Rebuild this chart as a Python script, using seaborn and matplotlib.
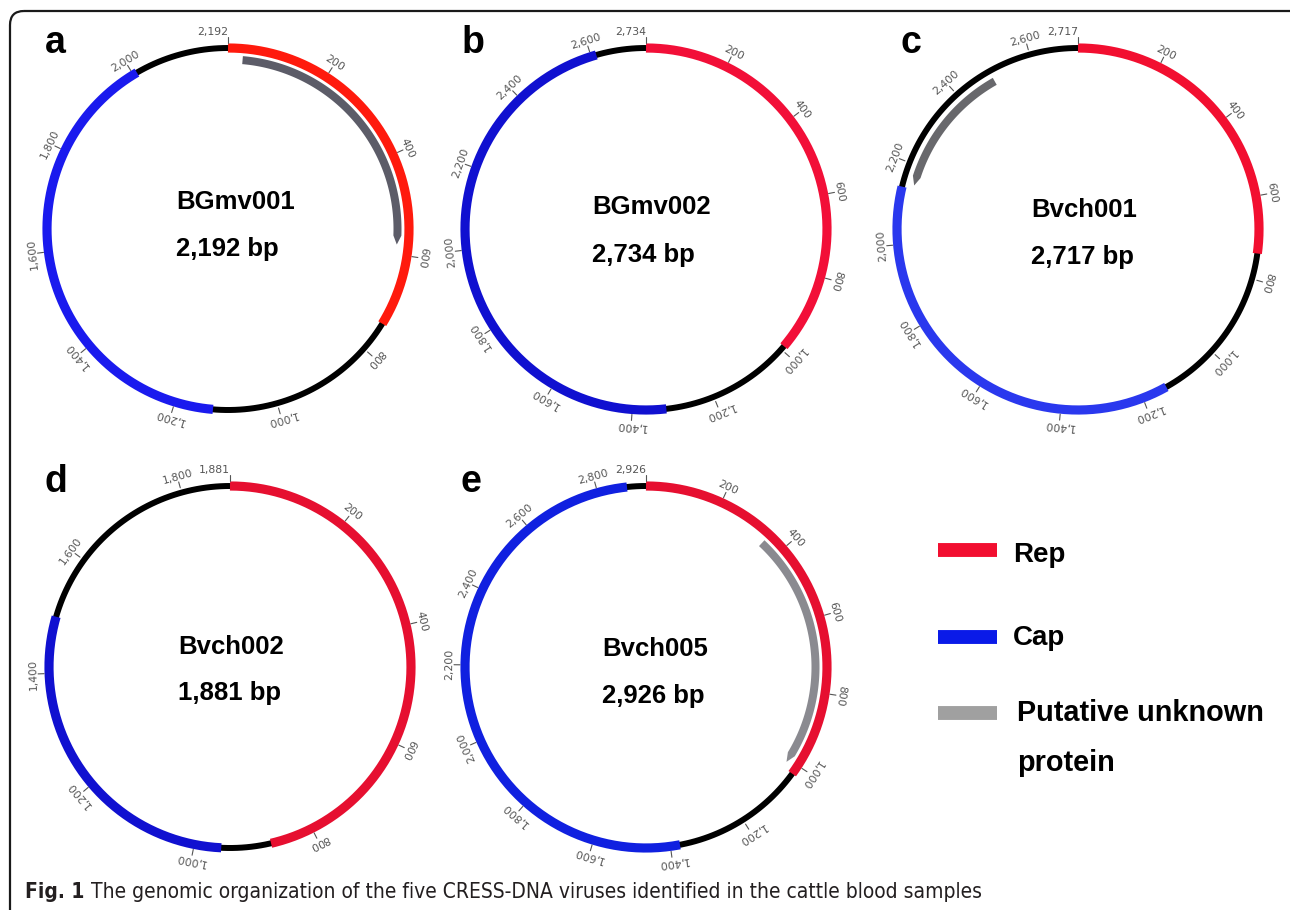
import numpy as np
import matplotlib
matplotlib.use("Agg")
import matplotlib.pyplot as plt
import seaborn as sns
from matplotlib import font_manager
from matplotlib.patches import FancyBboxPatch

# -----------------------------
# Data (positions in bp)
# -----------------------------
panel_letters = ["a", "b", "c", "d", "e"]
virus_names = ["BGmv001", "BGmv002", "Bvch001", "Bvch002", "Bvch005"]
genome_lengths = [2192, 2734, 2717, 1881, 2926]
rep_orfs = [(1, 740), (1, 990), (1, 738), (1, 872), (1, 1025)]
cap_orfs = [(1125, 2008), (1318, 2613), (1138, 2140), (955, 1495), (1375, 2877)]
# (start, end, strand) ; strand +1 -> arrow at end, -1 -> arrow at start
putative_orfs = [(30, 580, 1), None, (2150, 2495, -1), None, (350, 1008, 1)]
tick_step = 200

legend_labels = ["Rep", "Cap", "Putative unknown\nprotein"]
caption_bold = "Fig. 1"
caption_text = "The genomic organization of the five CRESS-DNA viruses identified in the cattle blood samples"

# -----------------------------
# Layout / style
# -----------------------------
centers = [(228, 229), (646, 229), (1078, 229), (230, 667), (646, 667)]
radius = 181
letter_pos = [(45, 53), (462, 53), (901, 53), (45, 492), (461, 492)]
name_xy = [(176, 202), (592, 207), (1031, 210), (178, 647), (602, 649)]
bp_y = [249, 255, 257, 693, 696]
rep_colors = ["#ff1a0d", "#f20f38", "#f20f30", "#e60f30", "#e60f30"]
cap_colors = ["#1a1aee", "#1010d0", "#2a38ee", "#1010d0", "#1020e0"]
put_colors = ["#5c5c68", None, "#68686c", None, "#8a8a90"]
legend_colors = ["#f20f30", "#0a1ae8", "#a0a0a0"]

sns.set_theme(style="white")
plt.rcParams["font.family"] = ["Liberation Sans", "DejaVu Sans"]

fig = plt.figure(figsize=(12.9, 9.1), dpi=100)
ax = fig.add_axes([0, 0, 1, 1])


def arc_xy(cx, cy, r, start, end, length, n=240):
    t = np.linspace(start, end, n) / length * 2 * np.pi
    return cx + r * np.sin(t), cy - r * np.cos(t)


def draw_arc(cx, cy, r, start, end, length, color, lw):
    x, y = arc_xy(cx, cy, r, start, end, length)
    sns.lineplot(x=x, y=y, sort=False, estimator=None, color=color,
                 linewidth=lw, ax=ax, solid_capstyle="butt", legend=False)


def draw_arrow_band(cx, cy, r, start, end, strand, length, color, width=8, tip=9):
    tip_bp = tip / (2 * np.pi * r) * length
    if strand > 0:
        a0, a1, tip_pos = start, end - tip_bp, end
    else:
        a0, a1, tip_pos = start + tip_bp, end, start
    xo, yo = arc_xy(cx, cy, r + width / 2, a0, a1, length)
    xi, yi = arc_xy(cx, cy, r - width / 2, a0, a1, length)
    tx, ty = arc_xy(cx, cy, r, tip_pos, tip_pos, length, n=1)
    if strand > 0:
        px = np.concatenate([xo, tx, xi[::-1]])
        py = np.concatenate([yo, ty, yi[::-1]])
    else:
        px = np.concatenate([tx, xo, xi[::-1]])
        py = np.concatenate([ty, yo, yi[::-1]])
    ax.fill(px, py, color=color, lw=0)


for i in range(5):
    cx, cy = centers[i]
    L = genome_lengths[i]

    # backbone
    draw_arc(cx, cy, radius, 0, L, L, "black", 4.3)
    # genes
    draw_arc(cx, cy, radius, rep_orfs[i][0] - 1, rep_orfs[i][1], L, rep_colors[i], 6.6)
    draw_arc(cx, cy, radius, cap_orfs[i][0], cap_orfs[i][1], L, cap_colors[i], 6.6)
    if putative_orfs[i] is not None:
        s, e, strand = putative_orfs[i]
        draw_arrow_band(cx, cy, radius - 11.5, s, e, strand, L, put_colors[i])

    # ticks + labels
    ticks = list(range(tick_step, L, tick_step)) + [L]
    for tk in ticks:
        th = tk / L * 2 * np.pi
        x1, y1 = cx + (radius + 5) * np.sin(th), cy - (radius + 5) * np.cos(th)
        x2, y2 = cx + (radius + 11) * np.sin(th), cy - (radius + 11) * np.cos(th)
        ax.plot([x1, x2], [y1, y2], color="#555555", lw=0.8)
        lx, ly = cx + (radius + 16) * np.sin(th), cy - (radius + 16) * np.cos(th)
        ha = "right" if tk == L else "center"
        ax.text(lx, ly, f"{tk:,}", rotation=-np.degrees(th), rotation_mode="anchor",
                ha=ha, va="center", fontsize=7.8, color="#555555",
                family=["DejaVu Sans"])

    # center labels
    nx, ny = name_xy[i]
    ax.text(nx, ny, virus_names[i], ha="left", va="center", fontsize=18.5,
            fontweight="bold", color="black")
    ax.text(nx, bp_y[i], f"{L:,} bp", ha="left", va="center", fontsize=18.5,
            fontweight="bold", color="black")

    # panel letter
    ax.text(letter_pos[i][0], letter_pos[i][1], panel_letters[i], ha="left",
            va="baseline", fontsize=27, fontweight="bold", color="black")

# -----------------------------
# Legend (drawn manually)
# -----------------------------
leg_bar_y = [550, 637, 713]
leg_text_pos = [(1013, 555), (1013, 638), (1017, 738)]
leg_sizes = [20, 20, 20.8]
for c, lab, by, (tx, ty), fs in zip(legend_colors, legend_labels, leg_bar_y,
                                     leg_text_pos, leg_sizes):
    sns.lineplot(x=[938, 997], y=[by, by], color=c, linewidth=10, ax=ax,
                 solid_capstyle="butt", legend=False)
    ax.text(tx, ty, lab, ha="left", va="center", fontsize=fs, fontweight="bold",
            color="black", linespacing=2.0)

# -----------------------------
# Frame + caption
# -----------------------------
frame = FancyBboxPatch((10, 11), 1300, 950, boxstyle="round,pad=0,rounding_size=14",
                       fill=False, lw=1.6, ec="#1a1a1a")
ax.add_patch(frame)

# pick a condensed face for the caption if one is installed
cap_font, cap_stretch = "Lato", "normal"
entries = font_manager.fontManager.ttflist
if any(f.name == "Liberation Sans Narrow" for f in entries):
    cap_font = "Liberation Sans Narrow"
elif any(f.name == "DejaVu Sans" and str(f.stretch) == "condensed" for f in entries):
    cap_font, cap_stretch = "DejaVu Sans", "condensed"

cap_size = 14
t1 = ax.text(25, 898, caption_bold, ha="left", va="baseline", fontsize=cap_size,
             fontweight="bold", color="#231f20", family=[cap_font, "DejaVu Sans"],
             fontstretch=cap_stretch)
fig.canvas.draw()
r = fig.canvas.get_renderer()
w1 = t1.get_window_extent(r).width
t2 = ax.text(25 + w1 + 6, 898, caption_text, ha="left", va="baseline", fontsize=cap_size,
             color="#231f20", family=[cap_font, "DejaVu Sans"], fontstretch=cap_stretch)
fig.canvas.draw()
total = t2.get_window_extent(r).x1 - 25
scale = 983 / total
t1.set_fontsize(cap_size * scale)
fig.canvas.draw()
w1 = t1.get_window_extent(r).width
t2.set_fontsize(cap_size * scale)
t2.set_x(25 + w1 + 6 * scale)

ax.set_xlim(0, 1290)
ax.set_ylim(910, 0)
ax.axis("off")
fig.savefig("out.png", dpi=100)
